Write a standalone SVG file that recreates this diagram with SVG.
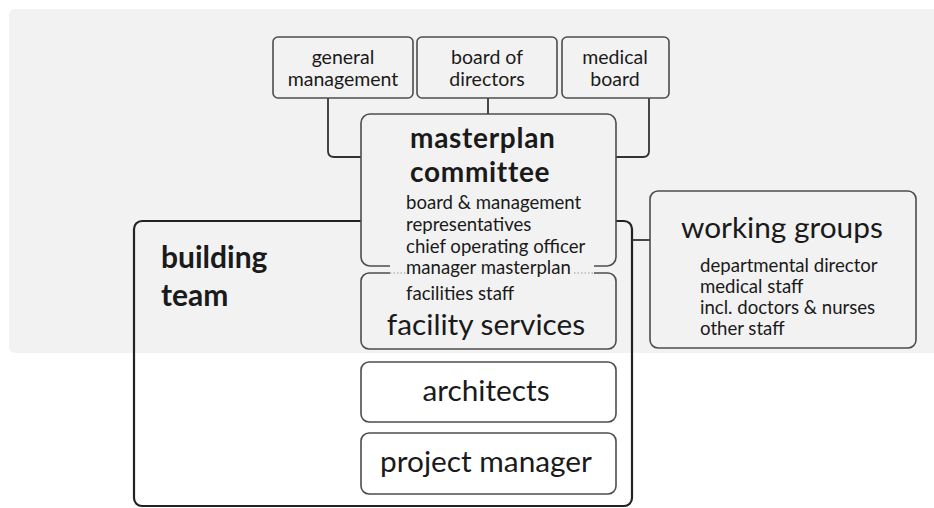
<svg xmlns="http://www.w3.org/2000/svg" width="934" height="508" viewBox="0 0 934 508">
<style>
text{font-family:Lato,"Open Sans","Liberation Sans",sans-serif;fill:#1a1a1a}
.box{fill:#f2f2f2;stroke:#4d4d4d;stroke-width:1.6}
.wbox{fill:#ffffff;stroke:#4d4d4d;stroke-width:1.6}
.con{fill:none;stroke:#333;stroke-width:1.8}
.sm{font-size:19.5px}
.sub{font-size:18.6px}
.big{font-size:29.8px}
.bold{font-weight:bold;font-size:30px}
.title{font-weight:bold;font-size:28px;letter-spacing:0.7px}
.c{text-anchor:middle}
</style>
<rect x="9" y="9" width="940" height="344" rx="6" fill="#f2f2f2"/>
<g id="building-team">
<rect x="134" y="221" width="498" height="285" rx="8" fill="none" stroke="#222" stroke-width="2.2"/>
<text class="bold" x="161" y="268">building</text>
<text class="bold" x="161" y="306">team</text>
</g>
<g id="connectors">
<path class="con" d="M328 98 V151 Q328 157 334 157 H362"/>
<path class="con" d="M488 98 V114"/>
<path class="con" d="M649 98 V151 Q649 157 643 157 H615"/>
<path class="con" d="M632 240 H650"/>
</g>
<g id="general-management">
<rect class="box" x="273" y="37" width="140" height="61" rx="5"/>
<text class="sm c" x="343" y="64">general</text>
<text class="sm c" x="343" y="86">management</text>
</g>
<g id="board-of-directors">
<rect class="box" x="417" y="37" width="140" height="61" rx="5"/>
<text class="sm c" x="487" y="64">board of</text>
<text class="sm c" x="487" y="86">directors</text>
</g>
<g id="medical-board">
<rect class="box" x="562" y="37" width="107" height="61" rx="5"/>
<text class="sm c" x="615" y="64">medical</text>
<text class="sm c" x="615" y="86">board</text>
</g>
<g id="facility-services">
<rect class="box" x="361" y="273" width="255" height="76" rx="8"/>
<text class="sub" x="406" y="300">facilities staff</text>
<text class="big c" x="486" y="335">facility services</text>
</g>
<g id="masterplan-committee">
<rect class="box" x="361" y="114" width="255" height="152" rx="9"/>
<rect x="390" y="262" width="204" height="14" fill="#f2f2f2"/>
<path d="M390 273 H408 M574 273 H594" stroke="#999" stroke-width="1.2" stroke-dasharray="1.5 2" fill="none"/>
<text class="title" x="410" y="148">masterplan</text>
<text class="title" x="410" y="182">committee</text>
<text class="sub" x="406" y="209">board &amp; management</text>
<text class="sub" x="406" y="231">representatives</text>
<text class="sub" x="406" y="253">chief operating officer</text>
<text class="sub" x="406" y="274">manager masterplan</text>
</g>
<g id="working-groups">
<rect class="box" x="650" y="191" width="266" height="157" rx="8"/>
<text class="big" x="681" y="238">working groups</text>
<text class="sub" x="700" y="272">departmental director</text>
<text class="sub" x="700" y="293">medical staff</text>
<text class="sub" x="700" y="314">incl. doctors &amp; nurses</text>
<text class="sub" x="700" y="335">other staff</text>
</g>
<g id="architects">
<rect class="wbox" x="361" y="362" width="255" height="60" rx="8"/>
<text class="big c" x="486" y="401">architects</text>
</g>
<g id="project-manager">
<rect class="wbox" x="361" y="433" width="255" height="61" rx="8"/>
<text class="big c" x="486" y="472">project manager</text>
</g>
</svg>
